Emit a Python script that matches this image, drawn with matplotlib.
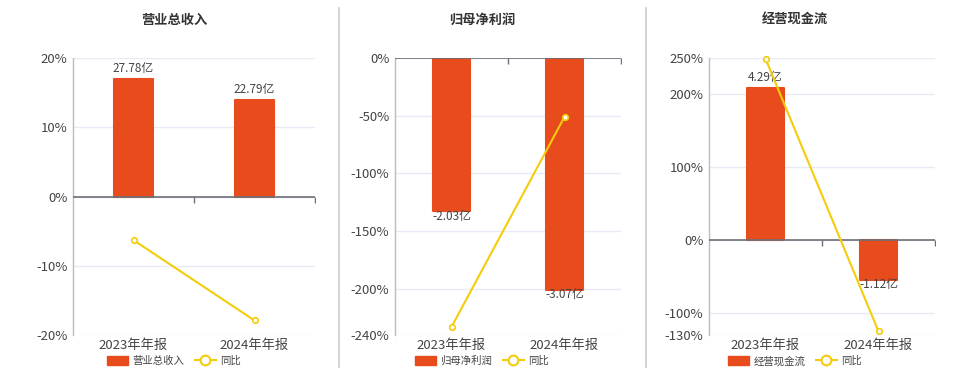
import matplotlib
matplotlib.use('Agg')
import matplotlib.pyplot as plt
from matplotlib.patches import Patch
from matplotlib.lines import Line2D

plt.rcParams['font.family'] = ['Noto Sans CJK SC', 'DejaVu Sans']

categories = ['2023年年报', '2024年年报']

titles = ['营业总收入', '归母净利润', '经营现金流']
bar_values = [
    [27.78, 22.79],
    [-2.03, -3.07],
    [4.29, -1.12],
]
yoy_values = [
    [-6.3, -17.9],
    [-233.0, -51.0],
    [249.0, -125.0],
]
pct_ticks = [
    [20, 10, 0, -10, -20],
    [0, -50, -100, -150, -200, -240],
    [250, 200, 100, 0, -100, -130],
]
pct_limits = [(-20, 20), (-240, 0), (-130, 250)]
# bar axis units (亿) per percent, so that both zeros line up
bar_scale = [1.64, 0.0153, 0.0206]

BAR = '#e84b1c'
LINE = '#f5cc0a'
GRID = '#e6ebf5'
AXIS = '#6e7079'
TXT = '#444444'

fig = plt.figure(figsize=(9.6, 3.72), dpi=100)
W, H = 960.0, 372.0

lefts = [73, 395, 709]
widths = [242, 226, 226]
title_x = [174, 482, 795]

for i in range(3):
    rect = [lefts[i] / W, 1 - 335 / H, widths[i] / W, 277 / H]
    ax = fig.add_axes(rect)
    lo, hi = pct_limits[i]
    ax.set_ylim(lo, hi)
    ax.set_xlim(-0.5, 1.5)
    ax.set_yticks(pct_ticks[i])
    ax.set_yticklabels(['{}%'.format(t) for t in pct_ticks[i]])
    ax.set_xticks([0, 1])
    ax.set_xticklabels(categories)
    ax.tick_params(axis='both', length=0, labelsize=9.5, colors=TXT, pad=4)
    ax.tick_params(axis='x', pad=3)
    for t in pct_ticks[i]:
        ax.axhline(t, color=GRID, lw=1, zorder=0)
    for s in ['top', 'right', 'bottom']:
        ax.spines[s].set_visible(False)
    ax.spines['left'].set_color('#b8bcc6')
    ax.spines['left'].set_linewidth(1)

    # bars on hidden twin axis
    axb = ax.twinx()
    axb.set_ylim(lo * bar_scale[i], hi * bar_scale[i])
    axb.set_xlim(-0.5, 1.5)
    axb.axis('off')
    bars = axb.bar(range(2), bar_values[i], width=0.33, color=BAR,
                   edgecolor=BAR, linewidth=1.5, joinstyle='round')
    for b, v in zip(bars, bar_values[i]):
        x = b.get_x() + b.get_width() / 2
        if v >= 0:
            axb.annotate('{:.2f}亿'.format(v), (x, v), xytext=(0, 3),
                         textcoords='offset points', ha='center', va='bottom',
                         fontsize=8.5, color=TXT)
        else:
            axb.annotate('{:.2f}亿'.format(v), (x, v), xytext=(0, 1),
                         textcoords='offset points', ha='center', va='top',
                         fontsize=8.5, color=TXT)

    # yoy line on top
    axl = ax.twinx()
    axl.set_ylim(lo, hi)
    axl.set_xlim(-0.5, 1.5)
    axl.axis('off')
    axl.axhline(0, color=AXIS, lw=1.2)
    axl.plot([0.5, 1.5], [0, 0], ls='none', marker=3, ms=4, mew=1, color=AXIS)
    axl.plot(range(2), yoy_values[i], color=LINE, lw=1.5, marker='o', ms=4,
             mfc='white', mec=LINE, mew=1.2, clip_on=False)

    fig.text(title_x[i] / W, 1 - 20 / H, titles[i], ha='center', va='center',
             fontsize=9.5, fontweight='bold', color='#333333')

    handles = [Patch(facecolor=BAR, edgecolor=BAR),
               Line2D([], [], color=LINE, lw=1.5, marker='o', ms=7,
                      mfc='white', mec=LINE, mew=1.5)]
    fig.legend(handles, [titles[i], '同比'], loc='center',
               bbox_to_anchor=(title_x[i] / W, 1 - 361 / H), ncol=2,
               frameon=False, fontsize=7.5, handlelength=2.0, handleheight=0.9,
               handletextpad=0.4, columnspacing=1.0, labelcolor=TXT,
               borderpad=0.1)

for xs in [339, 646]:
    fig.add_artist(Line2D([xs / W, xs / W], [1 - 8 / H, 1 - 367 / H],
                          color='#cccccc', lw=1.2))

fig.savefig('out.png', dpi=100)
